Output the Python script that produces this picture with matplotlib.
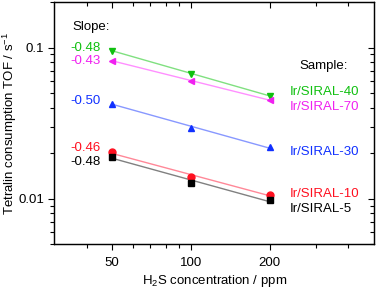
import numpy as np
import matplotlib
matplotlib.use("Agg")
import matplotlib.pyplot as plt
from matplotlib.ticker import FixedLocator, NullFormatter

plt.rcParams['font.family'] = ['Liberation Sans', 'DejaVu Sans']
plt.rcParams['font.size'] = 9.5
plt.rcParams['mathtext.fontset'] = 'custom'
plt.rcParams['mathtext.rm'] = 'Liberation Sans'

# -----------------------------
# Data
# -----------------------------
h2s_ppm = [50, 100, 200]

samples = ['Ir/SIRAL-40', 'Ir/SIRAL-70', 'Ir/SIRAL-30', 'Ir/SIRAL-10', 'Ir/SIRAL-5']
tof_siral40 = [0.0955, 0.067, 0.048]
tof_siral70 = [0.082, 0.060, 0.045]
tof_siral30 = [0.0426, 0.0295, 0.0218]
tof_siral10 = [0.0202, 0.0140, 0.0106]
tof_siral5 = [0.0190, 0.0126, 0.0098]
slope_labels = ['-0.48', '-0.43', '-0.50', '-0.46', '-0.48']

series = [tof_siral40, tof_siral70, tof_siral30, tof_siral10, tof_siral5]
markers = ['v', '<', '^', 'o', 's']
colors = ['#10c010', '#f020f0', '#1030ff', '#ff1020', '#000000']
line_colors = ['#80e080', '#ff90ff', '#8898ff', '#ff8898', '#808080']

# label positions (data coords)
slope_y = [0.1, 0.081, 0.0446, 0.0216, 0.0176]
sample_y = [0.0504, 0.0407, 0.0202, 0.0108, 0.0086]

# -----------------------------
# Plot
# -----------------------------
fig = plt.figure(figsize=(3.78, 2.92), dpi=100)
ax = fig.add_axes([0.143, 0.164, 0.846, 0.829])

x = np.array(h2s_ppm, dtype=float)
for vals, m, c, lc in zip(series, markers, colors, line_colors):
    y = np.array(vals)
    k, b = np.polyfit(np.log10(x), np.log10(y), 1)
    ax.plot(x, 10 ** (b + k * np.log10(x)), color=lc, lw=1.0, zorder=2)
    ax.plot(x, y, ls='none', marker=m, color=c, ms=5, mec=c, zorder=3)

ax.set_xscale('log')
ax.set_yscale('log')
ax.set_xlim(30, 500)
ax.set_ylim(0.005, 0.2)

ax.xaxis.set_major_locator(FixedLocator(h2s_ppm))
ax.xaxis.set_minor_locator(FixedLocator([40, 60, 70, 80, 90, 300, 400]))
ax.xaxis.set_minor_formatter(NullFormatter())
ax.set_xticklabels([str(v) for v in h2s_ppm])
ax.yaxis.set_major_locator(FixedLocator([0.01, 0.1]))
ax.set_yticklabels(['0.01', '0.1'])
ax.yaxis.set_minor_formatter(NullFormatter())

ax.tick_params(which='both', direction='out', width=0.8)
ax.tick_params(which='major', length=4)
ax.tick_params(axis='x', which='major', pad=5)
ax.tick_params(axis='y', which='major', pad=3)
ax.tick_params(which='minor', length=3)
for s in ax.spines.values():
    s.set_linewidth(0.9)

# mirrored ticks on top and right, pointing inward
axt = ax.twiny()
axt.set_xscale('log')
axt.set_xlim(ax.get_xlim())
axt.xaxis.set_major_locator(FixedLocator(h2s_ppm))
axt.xaxis.set_minor_locator(FixedLocator([40, 60, 70, 80, 90, 300, 400]))
axt.tick_params(which='both', direction='in', labeltop=False, width=0.8)
axt.tick_params(which='major', length=4)
axt.tick_params(which='minor', length=3)
axr = ax.twinx()
axr.set_yscale('log')
axr.set_ylim(ax.get_ylim())
axr.tick_params(which='both', direction='in', labelright=False, width=0.8)
axr.tick_params(which='major', length=4)
axr.tick_params(which='minor', length=3)

fig.text(0.567, 1 - 281 / 292, 'H$_2$S concentration / ppm', ha='center', va='center')
fig.text(10 / 378, 0.579, 'Tetralin consumption TOF / s$^{-1}$',
         ha='center', va='center', rotation=90)

ax.text(35.2, 0.136, 'Slope:', color='black', ha='left', va='center')
for lbl, yy, c in zip(slope_labels, slope_y, colors):
    ax.text(45, yy, lbl, color=c, ha='right', va='center')

ax.text(259, 0.075, 'Sample:', color='black', ha='left', va='center')
for name, yy, c in zip(samples, sample_y, colors):
    ax.text(239, yy, name, color=c, ha='left', va='center')

fig.savefig('out.png', dpi=100)
